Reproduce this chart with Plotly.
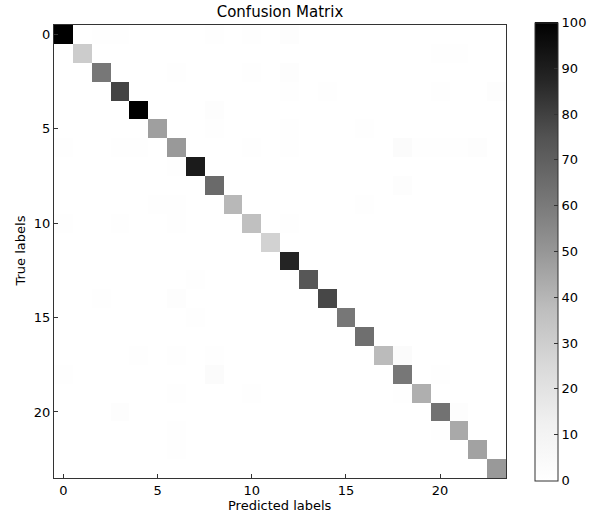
import numpy as np
import plotly.graph_objects as go

n_classes = 24
diag_values = [100, 31, 61, 79, 100, 47, 49, 91, 66, 39, 36, 28,
               88, 73, 78, 61, 64, 38, 61, 42, 63, 44, 46, 49]
# off-diagonal (true row, predicted col, value)
off_rows = [0, 0, 0, 0, 0, 1, 1, 2, 2, 2, 3, 3, 3, 3, 4, 5, 5, 5,
            6, 6, 6, 6, 6, 6, 6, 6, 6, 6, 7, 8, 9, 9, 9, 10, 10, 10, 10,
            13, 14, 14, 15, 17, 17, 17, 17, 18, 18, 18, 19, 19, 19, 20, 20, 21, 21, 22]
off_cols = [2, 3, 8, 10, 12, 20, 21, 6, 10, 12, 12, 14, 20, 23, 8, 8, 12, 16,
            0, 3, 4, 10, 12, 18, 19, 20, 21, 22, 6, 18, 5, 6, 16, 0, 3, 6, 12,
            7, 2, 6, 7, 4, 6, 8, 18, 0, 8, 20, 6, 10, 18, 3, 21, 6, 20, 6]
off_vals = [1, 1, 1, 1, 2, 1, 1, 1, 1, 2, 1, 1, 1, 2, 2, 1, 1, 1,
            1, 1, 1, 1, 1, 3, 1, 1, 1, 2, 1, 2, 1, 1, 1, 1, 1, 1, 1,
            1, 1, 2, 1, 1, 1, 1, 3, 1, 3, 1, 1, 1, 1, 2, 2, 1, 1, 1]
tick_vals = [0, 5, 10, 15, 20]
cbar_ticks = [0, 10, 20, 30, 40, 50, 60, 70, 80, 90, 100]

z = np.zeros((n_classes, n_classes))
for i, v in enumerate(diag_values):
    z[i, i] = v
for r, c, v in zip(off_rows, off_cols, off_vals):
    z[r, c] = v

greys = [[0, '#ffffff'], [0.125, '#f0f0f0'], [0.25, '#d9d9d9'], [0.375, '#bdbdbd'],
         [0.5, '#969696'], [0.625, '#737373'], [0.75, '#525252'], [0.875, '#252525'],
         [1, '#000000']]

W, H = 592, 512
L, R, T, B = 54, 86, 25, 34
PW, PH = W - L - R, H - T - B
FONT = 'DejaVu Sans'

fig = go.Figure(go.Heatmap(
    z=z, x=list(range(n_classes)), y=list(range(n_classes)),
    colorscale=greys, zmin=0, zmax=100,
    colorbar=dict(
        x=(535 - L) / PW, xanchor='left', xpad=0, ypad=0,
        thickness=23, thicknessmode='pixels',
        len=458, lenmode='pixels', y=0.5, yanchor='middle',
        tickvals=cbar_ticks, ticks='inside', ticklen=4, tickcolor='#333',
        outlinecolor='#333', outlinewidth=1,
        tickfont=dict(family=FONT, size=13, color='#000'),
    ),
))

axis_common = dict(
    showgrid=False, zeroline=False, showline=True, linecolor='#333', linewidth=1,
    mirror=True, ticks='inside', ticklen=4, tickcolor='#333', automargin=False,
    tickvals=tick_vals, tickfont=dict(family=FONT, size=13, color='#000'),
)

fig.update_layout(
    width=W, height=H,
    margin=dict(l=L, r=R, t=T, b=B, autoexpand=False),
    paper_bgcolor='white', plot_bgcolor='white',
    title=dict(text='Confusion Matrix', x=(L + PW / 2) / W, xanchor='center',
               y=1 - 12 / H, yanchor='middle',
               font=dict(family=FONT, size=15, color='#000')),
    xaxis=dict(axis_common, range=[-0.5, 23.5]),
    yaxis=dict(axis_common, range=[23.5, -0.5]),
    annotations=[
        dict(text='Predicted labels', xref='paper', yref='paper',
             x=0.5, y=-(505 - (H - B)) / PH, xanchor='center', yanchor='middle',
             showarrow=False, font=dict(family=FONT, size=13, color='#000')),
        dict(text='True labels', xref='paper', yref='paper', textangle=-90,
             x=(20 - L) / PW, y=0.5, xanchor='center', yanchor='middle',
             showarrow=False, font=dict(family=FONT, size=13, color='#000')),
    ],
)

fig.write_html('out.html', config={'displayModeBar': False},
               post_script="document.body.style.margin='0px';")
